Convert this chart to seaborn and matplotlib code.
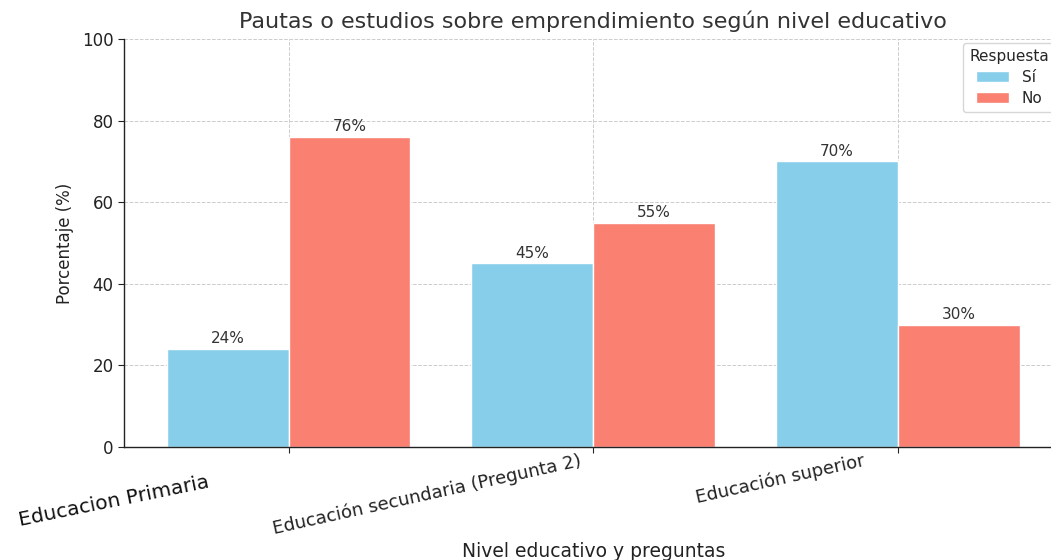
import matplotlib
matplotlib.use("Agg")
import matplotlib.pyplot as plt
import matplotlib.transforms as mtransforms
import seaborn as sns
import pandas as pd

categories = ["Educacion Primaria", "Educación secundaria (Pregunta 2)", "Educación superior"]
respuestas = ["Sí", "No"]
si_values = [24, 45, 70]
no_values = [76, 55, 30]
colors = ["#87CEEB", "#FA8072"]

df = pd.DataFrame({
    "Nivel": categories * 2,
    "Respuesta": ["Sí"] * 3 + ["No"] * 3,
    "Porcentaje": si_values + no_values,
})

sns.set_style("white")
plt.rcParams["font.family"] = ["DejaVu Sans"]

W, H = 1051, 560
fig = plt.figure(figsize=(W / 100, H / 100), dpi=100)
ax = fig.add_axes([124 / W, (H - 447) / H, (1062.7 - 124) / W, (447 - 39) / H])

sns.barplot(data=df, x="Nivel", y="Porcentaje", hue="Respuesta", hue_order=respuestas,
            palette=colors, ax=ax, width=0.8, saturation=1, dodge=True)

for cont in ax.containers:
    ax.bar_label(cont, labels=[f"{v:.0f}%" for v in cont.datavalues], fontsize=11,
                 color="#333333", padding=2)

ax.set_ylim(0, 100)
ax.set_xlim(-0.54, 2.54)
ax.set_yticks([0, 20, 40, 60, 80, 100])
ax.tick_params(axis="y", labelsize=12, colors="#222222", length=4, left=True)
ax.tick_params(axis="x", length=4, bottom=True)
ax.grid(True, linestyle="--", color="#cccccc", linewidth=0.7)
ax.set_axisbelow(True)
for s in ["top", "right"]:
    ax.spines[s].set_visible(False)
for s in ["left", "bottom"]:
    ax.spines[s].set_color("#222222")
    ax.spines[s].set_linewidth(1.0)

ax.set_title("Pautas o estudios sobre emprendimiento según nivel educativo",
             fontsize=16, color="#333333", pad=8)
ax.set_ylabel("Porcentaje (%)", fontsize=12, color="#222222", labelpad=6)
ax.set_xlabel("Nivel educativo y preguntas", fontsize=13.5, color="#222222")
ax.xaxis.set_label_coords(0.5, -0.232)

ax.set_xticks(range(len(categories)))
ax.set_xticklabels(categories, rotation=12.5, ha="right", fontsize=13, color="#222222")
tl = ax.get_xticklabels()
tl[0].set_fontsize(14.5)
tl[0].set_rotation(11.5)
tl[0].set_color("#111111")
tl[0].set_transform(tl[0].get_transform() +
                    mtransforms.ScaledTranslation(-0.78, -0.15, fig.dpi_scale_trans))
tl[1].set_transform(tl[1].get_transform() +
                    mtransforms.ScaledTranslation(-0.10, 0.06, fig.dpi_scale_trans))
tl[2].set_transform(tl[2].get_transform() +
                    mtransforms.ScaledTranslation(-0.32, 0.06, fig.dpi_scale_trans))

leg = ax.legend(title="Respuesta", loc="upper right", fontsize=11, title_fontsize=11,
                frameon=True, handlelength=2.2, labelspacing=0.4,
                bbox_to_anchor=(1.0, 1.01))
leg.get_frame().set_edgecolor("#cccccc")

fig.savefig("out.png", dpi=100)
